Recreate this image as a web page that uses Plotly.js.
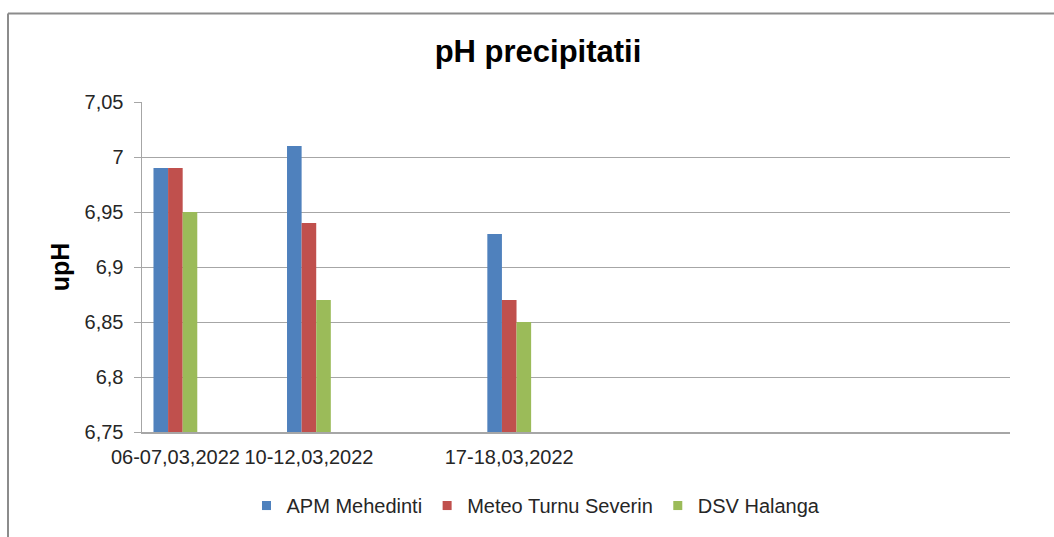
<!DOCTYPE html>
<html>
<head>
<meta charset="utf-8">
<script src="https://cdn.plot.ly/plotly-3.0.1.min.js"></script>
<style>
html,body{margin:0;padding:0;background:#fff;}
#chart{width:1054px;height:537px;}
</style>
</head>
<body>
<div id="chart"></div>
<script>
// Category labels (13 category slots; only three carry data)
const categories = ["06-07,03,2022", "", "10-12,03,2022", "", "", "17-18,03,2022", "", "", "", "", "", "", ""];
const seriesNames = ["APM Mehedinti", "Meteo Turnu Severin", "DSV Halanga"];
const apmMehedinti = [6.99, null, 7.01, null, null, 6.93, null, null, null, null, null, null, null];
const meteoTurnuSeverin = [6.99, null, 6.94, null, null, 6.87, null, null, null, null, null, null, null];
const dsvHalanga = [6.95, null, 6.87, null, null, 6.85, null, null, null, null, null, null, null];
const yTickValues = [6.75, 6.8, 6.85, 6.9, 6.95, 7, 7.05];

const colors = ["#4F81BD", "#C0504D", "#9BBB59"];
const idx = categories.map((c, i) => i);
const series = [apmMehedinti, meteoTurnuSeverin, dsvHalanga];

const traces = series.map((vals, k) => ({
  type: "bar",
  name: seriesNames[k],
  x: idx,
  y: vals,
  marker: {color: colors[k], line: {width: 0}},
  showlegend: false,
  hoverinfo: "name+y"
}));
// legend entries with small square keys, as in the reference
series.forEach((vals, k) => traces.push({
  type: "scatter",
  mode: "markers",
  name: seriesNames[k],
  x: [null],
  y: [null],
  marker: {symbol: "square", size: 9, color: colors[k], line: {width: 0}},
  showlegend: true,
  hoverinfo: "skip"
}));

const W = 1054, H = 537;
const m = {l: 142, r: 44, t: 102, b: 103};
const pw = W - m.l - m.r, ph = H - m.t - m.b;
const px = v => (v - m.l) / pw;
const py = v => (H - m.b - v) / ph;

const layout = {
  width: W, height: H,
  margin: m,
  paper_bgcolor: "#ffffff",
  plot_bgcolor: "#ffffff",
  separators: ", ",
  font: {family: "Liberation Sans, Arial, sans-serif", size: 20, color: "#262626"},
  title: {
    text: "<b>pH precipitatii</b>",
    font: {family: "Liberation Sans, Arial, sans-serif", size: 31, color: "#000000"},
    x: 538 / W, xref: "container", xanchor: "center",
    y: 1 - 51 / H, yref: "container", yanchor: "middle"
  },
  barmode: "group",
  bargap: 0.344,
  bargroupgap: 0,
  xaxis: {
    type: "linear",
    range: [-0.5, categories.length - 0.5],
    tickmode: "array",
    tickvals: idx.filter(i => categories[i] !== ""),
    ticktext: categories.filter(c => c !== ""),
    ticks: "",
    showgrid: false,
    zeroline: false,
    showline: true,
    linecolor: "#a6a6a6",
    linewidth: 1.5,
    tickfont: {size: 20, color: "#262626"},
    ticklabelstandoff: 6,
    fixedrange: true
  },
  yaxis: {
    range: [yTickValues[0], yTickValues[yTickValues.length - 1]],
    tickmode: "array",
    tickvals: yTickValues,
    ticktext: yTickValues.map(v => String(v).replace(".", ",")),
    ticks: "outside",
    ticklen: 7,
    tickcolor: "#a6a6a6",
    tickwidth: 1,
    showgrid: true,
    gridcolor: "#a6a6a6",
    gridwidth: 1,
    zeroline: false,
    showline: true,
    linecolor: "#a6a6a6",
    linewidth: 1.5,
    tickfont: {size: 20, color: "#262626"},
    ticklabelstandoff: 6,
    title: {
      text: "<b>upH</b>",
      font: {size: 25, color: "#000000"},
      standoff: 8
    },
    automargin: false,
    fixedrange: true
  },
  showlegend: true,
  legend: {
    orientation: "h",
    x: px(536), xanchor: "center",
    y: py(508), yanchor: "middle",
    font: {size: 20, color: "#262626"},
    itemwidth: 30,
    traceorder: "normal",
    bgcolor: "rgba(0,0,0,0)"
  },
  shapes: [
    {type: "line", xref: "paper", yref: "paper", x0: px(8), x1: px(W + 20), y0: py(13), y1: py(13),
     line: {color: "#8c8c8c", width: 2}},
    {type: "line", xref: "paper", yref: "paper", x0: px(8), x1: px(8), y0: py(13), y1: py(H + 20),
     line: {color: "#8c8c8c", width: 2}}
  ]
};

Plotly.newPlot("chart", traces, layout, {displayModeBar: false, staticPlot: true});
</script>
</body>
</html>
